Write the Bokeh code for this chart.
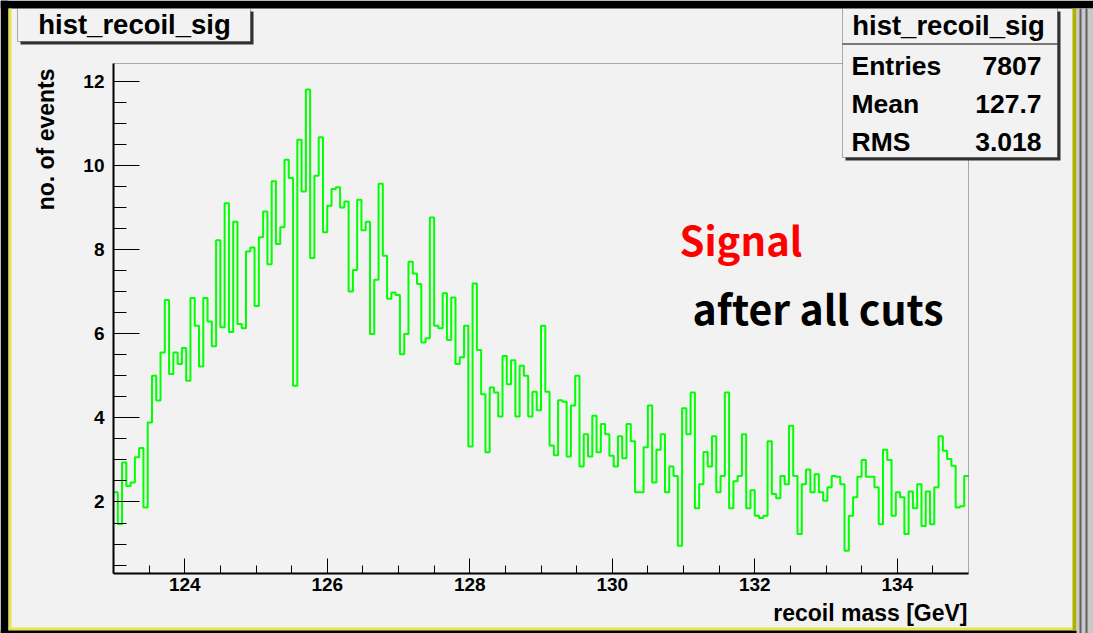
import numpy as np
from bokeh.plotting import figure
from bokeh.models import Label, BoxAnnotation, Range1d, FixedTicker
from bokeh.embed import file_html
from bokeh.resources import INLINE

# ---------------- data ----------------
x_min, x_max = 123.0, 135.0
counts = [
    2.23, 1.47, 2.94, 2.38, 2.46, 3.06, 3.28, 1.87, 3.89, 5.00,
    4.41, 5.55, 6.80, 5.04, 5.55, 5.28, 5.66, 4.88, 6.85, 6.19,
    5.22, 6.85, 6.29, 5.70, 8.22, 6.15, 9.10, 6.04, 8.66, 6.23,
    6.13, 7.95, 8.05, 6.66, 8.29, 8.90, 7.65, 9.62, 8.13, 8.53,
    10.13, 9.70, 4.76, 10.61, 9.38, 11.80, 7.80, 9.75, 10.67, 8.41,
    9.04, 9.44, 9.48, 9.00, 9.14, 7.00, 7.51, 9.18, 8.46, 8.66,
    5.99, 7.28, 9.56, 7.85, 6.83, 6.98, 6.92, 5.51, 5.99, 7.71,
    7.43, 7.18, 5.79, 5.89, 8.76, 6.19, 6.13, 6.96, 5.85, 6.86,
    5.28, 5.44, 6.19, 3.32, 7.19, 5.61, 4.56, 3.18, 4.72, 4.60,
    4.03, 5.47, 4.80, 5.37, 4.03, 5.24, 5.00, 4.03, 4.62, 4.18,
    6.19, 4.62, 3.34, 3.11, 4.42, 4.38, 3.08, 4.29, 5.00, 2.84,
    3.61, 3.08, 4.05, 3.18, 3.85, 3.61, 3.10, 2.84, 3.56, 3.04,
    3.85, 3.44, 2.23, 2.23, 3.30, 4.29, 2.46, 3.24, 3.61, 2.23,
    2.84, 2.62, 0.96, 4.23, 3.61, 4.60, 1.85, 2.42, 3.19, 2.84,
    3.56, 2.23, 2.62, 4.60, 1.85, 2.49, 2.62, 3.61, 1.85, 2.28,
    1.67, 1.62, 1.67, 3.44, 2.19, 2.09, 2.62, 2.42, 3.81, 2.62,
    1.24, 2.42, 2.77, 2.23, 2.66, 2.23, 2.03, 2.35, 2.62, 2.60,
    2.42, 0.84, 1.67, 2.11, 2.60, 3.00, 2.60, 2.60, 2.35, 1.47,
    3.24, 3.00, 1.67, 2.23, 2.11, 1.24, 2.25, 1.85, 2.42, 1.43,
    2.25, 1.47, 2.35, 3.56, 3.22, 3.02, 2.86, 1.87, 1.90, 2.62,
]
x_major_ticks = [124, 126, 128, 130, 132, 134]
x_minor_ticks = [123.5, 124.5, 125, 125.5, 126.5, 127, 127.5, 128.5, 129, 129.5,
                 130.5, 131, 131.5, 132.5, 133, 133.5, 134.5]
y_major_ticks = [2, 4, 6, 8, 10, 12]
y_minor_ticks = [0.5, 1, 1.5, 2.5, 3, 3.5, 4.5, 5, 5.5, 6.5, 7, 7.5,
                 8.5, 9, 9.5, 10.5, 11, 11.5]
y_min, y_max = 0.3, 12.42

hist_name = "hist_recoil_sig"
stat_names = ["Entries", "Mean", "RMS"]
stat_values = ["7807", "127.7", "3.018"]
x_title = "recoil mass [GeV]"
y_title = "no. of events"
note1 = "Signal"
note2 = "after all cuts"

# ---------------- layout ----------------
W, H = 1093, 633
FL, FR, FT, FB = 113, 968, 63, 573      # pixel box of the histogram frame
BG = "#f2f2f2"
FONT = "Liberation Sans"

# the plotting frame covers the whole canvas; the axes are pinned at the
# histogram frame edges so that decorations around it are not clipped
kx = (FR - FL) / (x_max - x_min)
ky = (FB - FT) / (y_max - y_min)
xr = Range1d(x_min - FL / kx, x_max + (W - FR) / kx)
yr = Range1d(y_min - (H - FB) / ky, y_max + FT / ky)

p = figure(width=W, height=H, output_backend="svg", toolbar_location=None,
           title=None, x_range=xr, y_range=yr,
           min_border=0, min_border_left=0, min_border_right=0,
           min_border_top=0, min_border_bottom=0,
           background_fill_color=BG, border_fill_color=BG,
           outline_line_color=None)
p.grid.visible = False

p.xaxis.fixed_location = y_min
p.yaxis.fixed_location = x_min
p.xaxis.bounds = (x_min, x_max)
p.yaxis.bounds = (y_min, y_max)
p.xaxis.ticker = FixedTicker(ticks=x_major_ticks, minor_ticks=x_minor_ticks)
p.yaxis.ticker = FixedTicker(ticks=y_major_ticks, minor_ticks=y_minor_ticks)
for ax in (p.xaxis, p.yaxis):
    ax.axis_line_width = 2
    ax.axis_line_color = "black"
    ax.major_tick_out = 0
    ax.minor_tick_out = 0
    ax.major_tick_line_color = "black"
    ax.minor_tick_line_color = "black"
    ax.major_label_text_font = FONT
    ax.major_label_text_font_style = "bold"
    ax.major_label_text_font_size = "19px"
    ax.major_label_text_color = "black"
p.xaxis.major_tick_in = 15
p.xaxis.minor_tick_in = 8
p.xaxis.major_label_standoff = 4
p.yaxis.major_tick_in = 26
p.yaxis.minor_tick_in = 13
p.yaxis.major_label_standoff = 9

edges = np.linspace(x_min, x_max, len(counts) + 1)
p.step(edges, list(counts) + [counts[-1]], mode="after",
       line_color="#00ff00", line_width=2)

# top / right frame lines of the histogram box
p.add_layout(BoxAnnotation(left=x_min, right=x_max, bottom=y_min, top=y_max,
                           fill_alpha=0, line_color="black", line_width=1,
                           level="annotation"))


def sx(x):
    return x


def sy(y):
    return H - y


def box(x0, y0, x1, y1, fill, line=None, lw=1):
    p.add_layout(BoxAnnotation(left=sx(x0), right=sx(x1), top=sy(y0), bottom=sy(y1),
                               left_units="screen", right_units="screen",
                               top_units="screen", bottom_units="screen",
                               fill_color=fill, fill_alpha=1.0,
                               line_color=line, line_width=lw, level="overlay"))


def label(text, x, y, size, align="left", color="black", font=FONT, angle=0.0,
          style="bold"):
    p.add_layout(Label(text=text, x=sx(x), y=sy(y), x_units="screen", y_units="screen",
                       text_font=font, text_font_style=style, text_font_size=size,
                       text_color=color, text_align=align, text_baseline="middle",
                       angle=angle, level="overlay"))


# canvas frame decorations
box(0, 0, W, 8, "black")
box(0, 0, 8, H, "black")
box(8, 8, 11, 628, "#e6e64a")
box(8, 627, 1072, 630, "#e6e64a")
box(0, 630, W, H, "black")
box(1072, 8, 1076, 630, "#b0b000")
box(1076, 8, W, 633, "#c8c8c8")
box(1079, 8, 1081, 633, "#606060")
box(1085, 8, 1087, 633, "#606060")

# title box
box(20, 11, 253, 44, "#303030")
box(17, 8, 250, 41, BG, "black", 1)
label(hist_name, 134, 24, "27.5px", align="center")

# stats box
box(845, 11, 1060, 160, "#303030")
box(842, 8, 1057, 157, BG, "black", 1)
box(842, 43, 1057, 44, "black")
label(hist_name, 948, 25, "27.5px", align="center")
for i, (n, v) in enumerate(zip(stat_names, stat_values)):
    yy = 65 + 38 * i
    label(n, 851, yy, "26.5px")
    label(v, 1041, yy, "26.5px", align="right")

# axis titles
label(x_title, 967, 612, "23px", align="right")
label(y_title, 45, 68, "23px", align="right", angle=np.pi / 2)

# notes
label(note1, 679, 238, "40px", color="#ff0000", font="Noto Sans CJK JP")
label(note2, 692, 306, "41px", color="black", font="Noto Sans CJK JP")

open("out.html", "w").write(file_html(p, INLINE))
